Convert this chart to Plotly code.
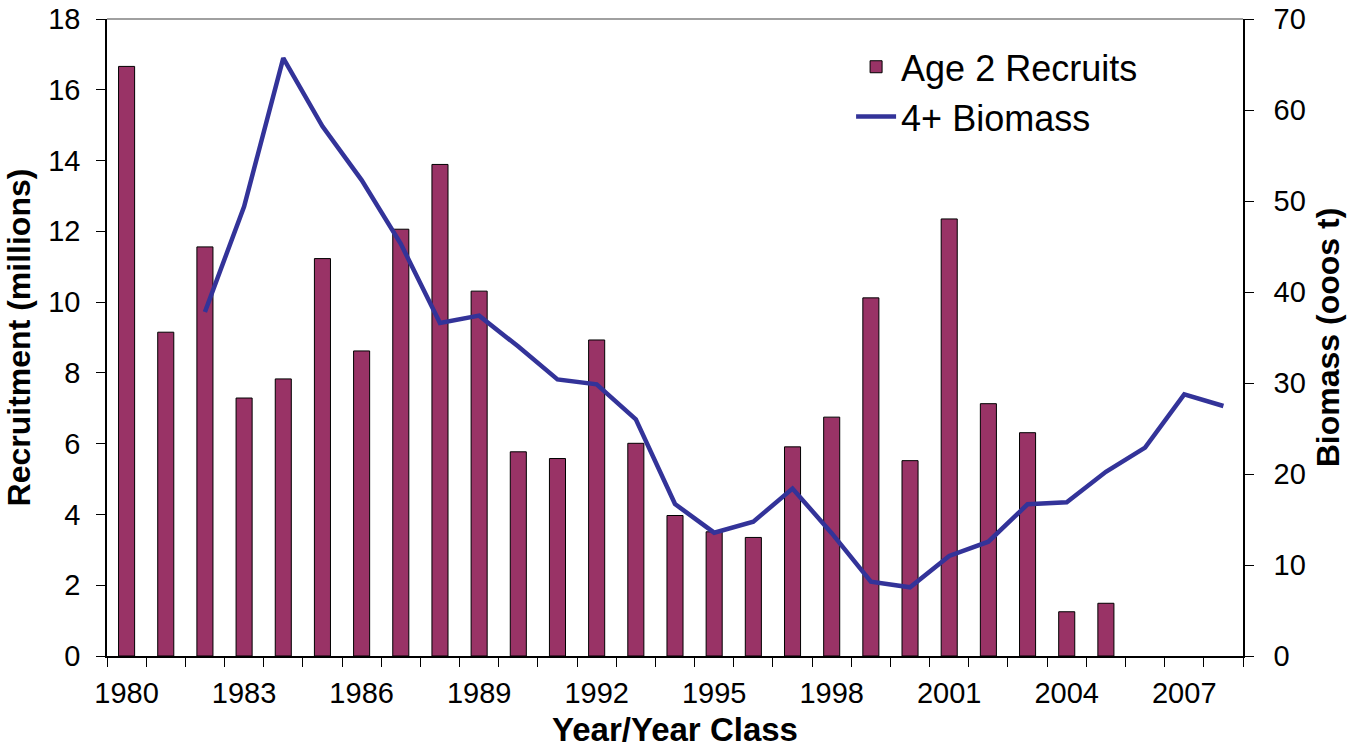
import plotly.graph_objects as go

# data
years = list(range(1980, 2009))
recruits = [16.66, 9.15, 11.56, 7.29, 7.83, 11.23, 8.62, 12.06, 13.89, 10.31,
            5.77, 5.58, 8.93, 6.01, 3.97, 3.51, 3.35, 5.91, 6.75, 10.12,
            5.52, 12.35, 7.13, 6.31, 1.25, 1.49, None, None, None]
biomass_years = list(range(1982, 2009))
biomass = [37.8, 49.4, 65.7, 58.2, 52.3, 45.3, 36.6, 37.4, 34.0, 30.4,
           29.85, 26.0, 16.7, 13.55, 14.76, 18.4, 13.5, 8.17, 7.55, 11.0,
           12.56, 16.67, 16.9, 20.25, 22.9, 28.75, 27.47]
year_labels = list(range(1980, 2008, 3))

font = "Liberation Sans, Arial, sans-serif"

fig = go.Figure()
fig.add_trace(go.Bar(
    x=years, y=recruits, name="Age 2 Recruits",
    marker=dict(color="#993366", line=dict(color="black", width=1)),
))
fig.add_trace(go.Scatter(
    x=biomass_years, y=biomass, name="4+ Biomass", yaxis="y2",
    mode="lines", line=dict(color="#333399", width=4.5),
))

fig.update_layout(
    width=1349, height=748,
    margin=dict(l=107, r=106, t=19, b=92),
    plot_bgcolor="white", paper_bgcolor="white",
    font=dict(family=font, color="black", size=29),
    bargap=0.59,
    showlegend=True,
    legend=dict(x=0.655, y=0.972, xanchor="left", yanchor="top",
                font=dict(size=36), bgcolor="rgba(0,0,0,0)",
                tracegroupgap=0, itemwidth=40),
    xaxis=dict(
        range=[1979.5, 2008.5], tickvals=year_labels, ticks="",
        showline=True, linecolor="black", linewidth=1.5,
        showgrid=False, zeroline=False, automargin=False,
        minor=dict(tick0=1979.5, dtick=1, ticks="outside", ticklen=9,
                   tickcolor="black", tickwidth=1, showgrid=False),
        tickfont=dict(size=29), ticklabelstandoff=10,
        title=dict(text="<b>Year/Year Class</b>", font=dict(size=33), standoff=16),
    ),
    yaxis=dict(
        range=[0, 18], dtick=2, ticks="outside", ticklen=9, tickcolor="black",
        showline=True, linecolor="black", linewidth=1.5, automargin=False,
        showgrid=False, zeroline=False, tickfont=dict(size=29),
        ticklabelstandoff=10,
        title=dict(text="<b>Recruitment (millions)</b>", font=dict(size=32), standoff=8),
    ),
    yaxis2=dict(
        range=[0, 70], dtick=10, overlaying="y", side="right",
        ticks="outside", ticklen=9, tickcolor="black", automargin=False,
        showline=True, linecolor="black", linewidth=1.5,
        showgrid=False, zeroline=False, tickfont=dict(size=29),
        ticklabelstandoff=14,
        title=dict(text="<b>Biomass (ooos t)</b>", font=dict(size=32), standoff=12),
    ),
    shapes=[dict(type="line", xref="paper", yref="paper", x0=0, x1=1, y0=1, y1=1,
                 line=dict(color="#808080", width=1.5))],
)

# drop the default page margin so the figure fills the window exactly
fig.write_html("out.html", config={"displayModeBar": False},
               post_script="document.body.style.margin='0';")
